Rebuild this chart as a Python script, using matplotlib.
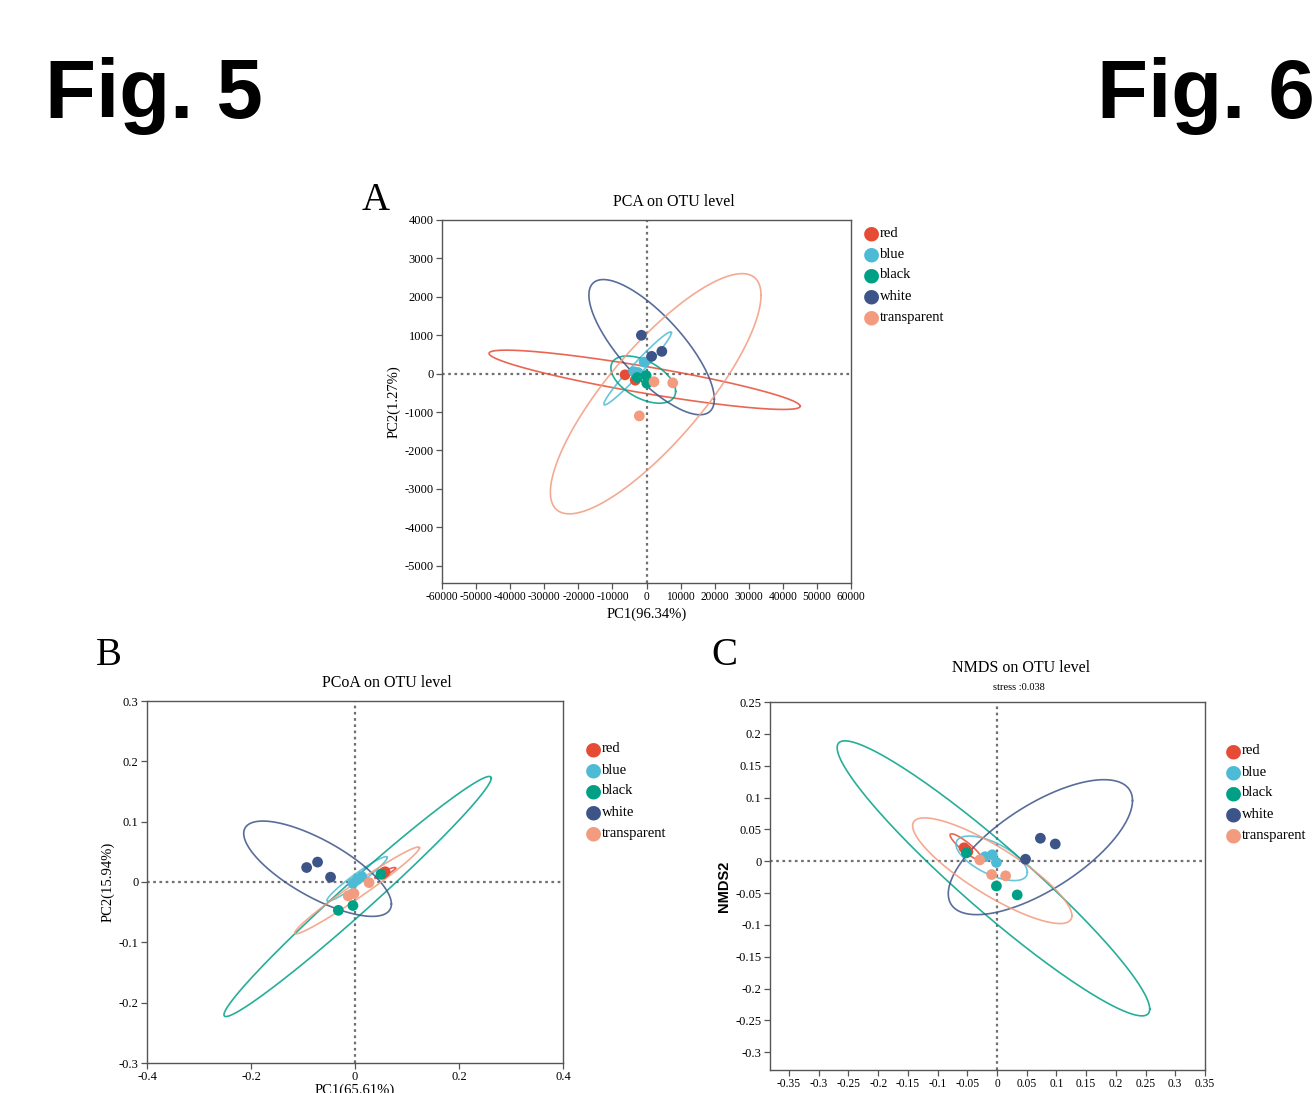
import numpy as np
import matplotlib
matplotlib.use('Agg')
import matplotlib.pyplot as plt

plt.rcParams['font.family'] = ['Liberation Serif', 'DejaVu Serif']

# Grupos y colores
grupos = ['red', 'blue', 'black', 'white', 'transparent']
colores = ['#E64B35', '#4DBBD5', '#00A087', '#3C5488', '#F39B7F']

# PCA (A): puntos por grupo
pca_x = [[-6300, -3300, -3000], [-700, -3700, -2500], [-2700, -100, 100],
         [-1500, 1500, 4500], [2200, 7700, -2100]]
pca_y = [[-30, -170, -120], [300, 50, 30], [-100, -50, -250],
         [1000, 450, 580], [-210, -240, -1100]]
# elipses: centro x, centro y, semiancho x, semialto y, correlacion
pca_elipses = [[-550, -160, 45650, 772, -0.89], [-2600, 137, 9900, 950, 0.975],
               [-950, -155, 9500, 615, -0.5], [1500, 690, 18400, 1760, -0.77],
               [2700, -523, 30900, 3127, 0.82]]

# PCoA (B)
pcoa_x = [[0.058, 0.052, 0.055], [-0.004, 0.004, 0.013], [0.050, -0.032, -0.004],
          [-0.093, -0.072, -0.047], [0.027, -0.002, -0.013]]
pcoa_y = [[0.017, 0.013, 0.015], [-0.002, 0.004, 0.009], [0.013, -0.047, -0.039],
          [0.024, 0.033, 0.008], [-0.001, -0.019, -0.023]]
pcoa_elipses = [[0.058, 0.015, 0.02, 0.009, 0.9], [0.004, 0.005, 0.058, 0.037, 0.96],
                [0.005, -0.024, 0.257, 0.199, 0.985], [-0.072, 0.022, 0.142, 0.079, -0.74],
                [0.004, -0.014, 0.12, 0.072, 0.98]]

# NMDS (C)
nmds_x = [[-0.0555, -0.049, -0.052], [-0.020, -0.008, -0.001], [-0.0515, -0.001, 0.034],
          [0.073, 0.098, 0.048], [-0.029, -0.009, 0.0145]]
nmds_y = [[0.021, 0.015, 0.018], [0.007, 0.010, -0.002], [0.013, -0.039, -0.053],
          [0.036, 0.027, 0.003], [0.002, -0.021, -0.023]]
nmds_elipses = [[-0.052, 0.022, 0.027, 0.021, -0.9], [-0.009, 0.0045, 0.060, 0.035, -0.63],
                [-0.006, -0.027, 0.263, 0.216, -0.95], [0.073, 0.022, 0.155, 0.106, 0.69],
                [-0.008, -0.015, 0.134, 0.083, -0.85]]


def elipse(cx, cy, hx, hy, rho):
    t = np.linspace(0, 2 * np.pi, 300)
    x = cx + hx * np.cos(t)
    y = cy + hy * (rho * np.cos(t) + np.sqrt(1 - rho ** 2) * np.sin(t))
    return x, y


def lbl(v):
    v = round(float(v), 4)
    if abs(v) < 1e-9:
        return '0'
    return '%g' % v


def panel(ax, xs, ys, elipses, xlim, ylim, xticks, yticks):
    ax.axhline(0, color='#707070', ls=(0, (1.2, 1.6)), lw=1.6, zorder=1)
    ax.axvline(0, color='#707070', ls=(0, (1.2, 1.6)), lw=1.6, zorder=1)
    for i in range(len(grupos)):
        ex, ey = elipse(*elipses[i])
        ax.plot(ex, ey, color=colores[i], lw=1.2, alpha=0.85, zorder=2)
    for i in range(len(grupos)):
        ax.scatter(xs[i], ys[i], s=60, color=colores[i], edgecolors='none', zorder=3)
    ax.set_xlim(xlim)
    ax.set_ylim(ylim)
    ax.set_xticks(xticks)
    ax.set_xticklabels([lbl(v) for v in xticks])
    ax.set_yticks(yticks)
    ax.set_yticklabels([lbl(v) for v in yticks])
    ax.tick_params(labelsize=9, length=4, width=0.9, color='#555555', pad=2)
    for s in ax.spines.values():
        s.set_color('#555555')
        s.set_linewidth(1.0)


def leyenda(fig, x, y):
    for i, g in enumerate(grupos):
        fig.text(x, y - i * 21 / 1093, '\u25CF', color=colores[i], fontsize=14,
                 family='DejaVu Sans', va='center', ha='center')
        fig.text(x + 9 / 1314, y - i * 21 / 1093, g, fontsize=10.5, va='center', ha='left')


fig = plt.figure(figsize=(13.14, 10.93), dpi=100)

fig.text(45 / 1314, 1 - 118 / 1093, 'Fig. 5', family='Liberation Sans', weight='bold', fontsize=60)
fig.text(1097 / 1314, 1 - 118 / 1093, 'Fig. 6', family='Liberation Sans', weight='bold', fontsize=60)

# Panel A
axA = fig.add_axes([442 / 1314, 1 - 583 / 1093, 409 / 1314, 363 / 1093])
panel(axA, pca_x, pca_y, pca_elipses, (-60000, 60000), (-5450, 4000),
      np.arange(-60000, 60001, 10000), np.arange(-5000, 4001, 1000))
axA.tick_params(axis='x', labelsize=8.3)
axA.set_xlabel('PC1(96.34%)', fontsize=10.5, labelpad=3)
axA.set_ylabel('PC2(1.27%)', fontsize=10.5, labelpad=3)
fig.text(674 / 1314, 1 - 202 / 1093, 'PCA on OTU level', fontsize=11.5, ha='center', va='center')
fig.text(362 / 1314, 1 - 210 / 1093, 'A', fontsize=28)
leyenda(fig, 871 / 1314, 1 - 233 / 1093)

# Panel B
axB = fig.add_axes([147 / 1314, 1 - 1063 / 1093, 416 / 1314, 362 / 1093])
panel(axB, pcoa_x, pcoa_y, pcoa_elipses, (-0.4, 0.4), (-0.3, 0.3),
      np.arange(-0.4, 0.41, 0.2), np.arange(-0.3, 0.31, 0.1))
axB.set_xlabel('PC1(65.61%)', fontsize=10.5, labelpad=0)
axB.set_ylabel('PC2(15.94%)', fontsize=10.5, labelpad=3)
fig.text(387 / 1314, 1 - 683 / 1093, 'PCoA on OTU level', fontsize=11.5, ha='center', va='center')
fig.text(96 / 1314, 1 - 665 / 1093, 'B', fontsize=28)
leyenda(fig, 593 / 1314, 1 - 749 / 1093)

# Panel C
axC = fig.add_axes([770 / 1314, 1 - 1070 / 1093, 435 / 1314, 368 / 1093])
panel(axC, nmds_x, nmds_y, nmds_elipses, (-0.382, 0.35), (-0.328, 0.25),
      np.arange(-0.35, 0.351, 0.05), np.arange(-0.3, 0.251, 0.05))
axC.tick_params(axis='x', labelsize=8.3)
axC.set_ylabel('NMDS2', fontsize=10.5, family='Liberation Sans', weight='bold', labelpad=3)
fig.text(1021 / 1314, 1 - 668 / 1093, 'NMDS on OTU level', fontsize=11.5, ha='center', va='center')
fig.text(1019 / 1314, 1 - 687 / 1093, 'stress :0.038', fontsize=7.5, ha='center', va='center')
fig.text(711 / 1314, 1 - 665 / 1093, 'C', fontsize=28)
leyenda(fig, 1233 / 1314, 1 - 751 / 1093)

fig.savefig('out.png', dpi=100)
